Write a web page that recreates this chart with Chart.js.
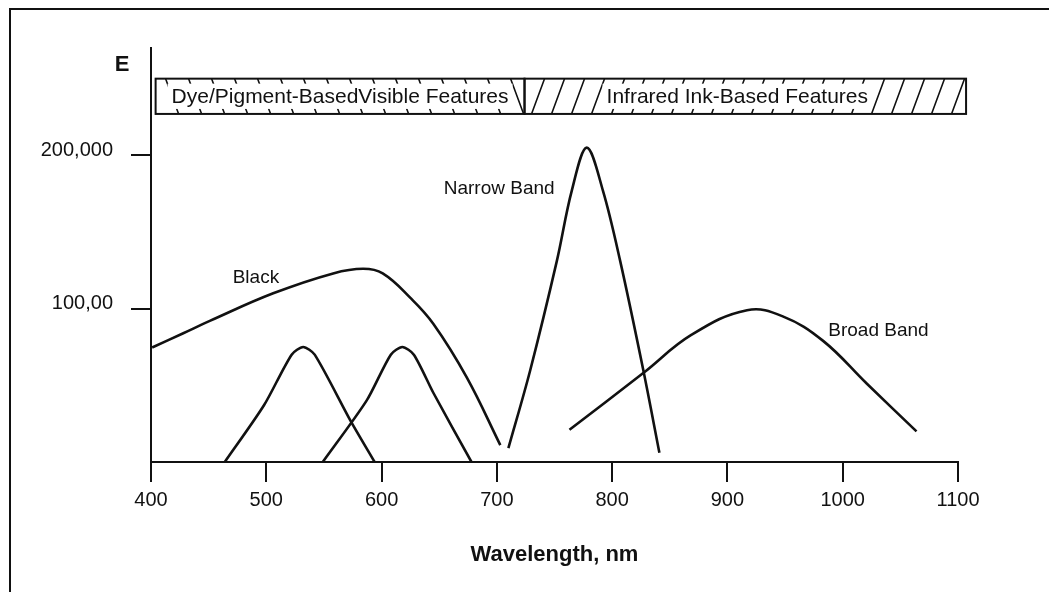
<!DOCTYPE html>
<html>
<head>
<meta charset="utf-8">
<script src="https://cdn.jsdelivr.net/npm/chart.js@4.4.1/dist/chart.umd.min.js"></script>
<style>
  html, body { margin: 0; padding: 0; background: #fff; }
  #wrap { width: 1049px; height: 592px; position: relative; }
</style>
</head>
<body>
<div id="wrap"><canvas id="chart"></canvas></div>
<script>
// wavelength (nm) / emission E for each curve
const blackWl = [401, 428, 451, 506, 558, 584, 601, 625, 645, 674, 703];
const blackE = [74700, 84000, 92000, 110000, 123000, 126000, 123000, 107000, 90000, 55000, 11000];

const dye1Wl = [464, 498, 522, 532, 542, 573, 594];
const dye1E = [0, 37000, 70000, 75000, 70000, 27000, 0];

const dye2Wl = [549, 587, 608, 618, 628, 645, 678];
const dye2E = [0, 40000, 70000, 75000, 70000, 45000, 0];

const narrowWl = [710, 729, 752, 765, 778, 792, 807, 827, 841];
const narrowE = [9000, 60000, 131000, 177000, 205000, 177000, 131000, 60000, 6000];

const broadWl = [763, 827, 869, 917, 948, 983, 1021, 1064];
const broadE = [21000, 58000, 83000, 99000, 95000, 79000, 51000, 20000];

const xTicks = [400, 500, 600, 700, 800, 900, 1000, 1100];
const yTickValues = [100000, 200000];
const yTickLabels = ['100,00', '200,000'];

// feature bands across the top
const bandLabels = ['Dye/Pigment-BasedVisible Features', 'Infrared Ink-Based Features'];
const bandFrom = [404, 724];
const bandTo = [724, 1107];
const bandTopE = 250000;
const bandBottomE = 227000;

// curve names, anchored at (nm, E)
const curveNames = ['Black', 'Narrow Band', 'Broad Band'];
const curveNameWl = [491, 702, 1031];
const curveNameE = [120000, 178500, 85700];

const FONT = '"Liberation Sans", Arial, Helvetica, sans-serif';
const INK = '#111';

const toPts = (xs, ys) => xs.map((x, i) => ({ x, y: ys[i] }));

const curve = (label, xs, ys, tension) => ({
  label,
  data: toPts(xs, ys),
  borderColor: INK,
  borderWidth: 2.6,
  pointRadius: 0,
  fill: false,
  tension,
});

const decorPlugin = {
  id: 'decor',
  beforeDraw(chart) {
    const ctx = chart.ctx;
    ctx.save();
    ctx.fillStyle = '#fff';
    ctx.fillRect(0, 0, chart.width, chart.height);
    // page frame
    ctx.strokeStyle = INK;
    ctx.lineWidth = 2;
    ctx.beginPath();
    ctx.moveTo(10, chart.height);
    ctx.lineTo(10, 9);
    ctx.lineTo(chart.width, 9);
    ctx.stroke();
    ctx.restore();
  },
  afterDatasetsDraw(chart) {
    const { ctx, scales: { x, y } } = chart;
    ctx.save();

    const top = y.getPixelForValue(bandTopE);
    const bot = y.getPixelForValue(bandBottomE);
    const h = bot - top;

    bandLabels.forEach((txt, i) => {
      const x0 = x.getPixelForValue(bandFrom[i]);
      const x1 = x.getPixelForValue(bandTo[i]);
      ctx.save();
      ctx.beginPath();
      ctx.rect(x0, top, x1 - x0, h);
      ctx.clip();
      ctx.strokeStyle = INK;
      ctx.lineWidth = 1.6;
      const slant = 13;
      const sp = i === 0 ? 23 : 20;
      ctx.beginPath();
      for (let px = x0 - slant; px < x1 + slant; px += sp) {
        if (i === 0) {
          ctx.moveTo(px, top);
          ctx.lineTo(px + slant, bot);
        } else {
          ctx.moveTo(px, bot);
          ctx.lineTo(px + slant, top);
        }
      }
      ctx.stroke();

      ctx.font = '21px ' + FONT;
      const w = ctx.measureText(txt).width;
      const cx = (x0 + x1) / 2 - (i === 0 ? 0 : 8);
      ctx.fillStyle = '#fff';
      ctx.fillRect(cx - w / 2 - 4, top + 5, w + 8, h - 10);
      ctx.fillStyle = INK;
      ctx.textAlign = 'center';
      ctx.textBaseline = 'middle';
      ctx.fillText(txt, cx, (top + bot) / 2 + 1);
      ctx.restore();

      ctx.strokeStyle = INK;
      ctx.lineWidth = 2;
      ctx.strokeRect(x0, top, x1 - x0, h);
    });

    // curve names
    ctx.fillStyle = INK;
    ctx.font = '19px ' + FONT;
    ctx.textAlign = 'center';
    ctx.textBaseline = 'middle';
    curveNames.forEach((n, i) => {
      ctx.fillText(n, x.getPixelForValue(curveNameWl[i]), y.getPixelForValue(curveNameE[i]));
    });

    // axis letter
    ctx.font = 'bold 22px ' + FONT;
    ctx.fillText('E', 122, 65);
    ctx.restore();
  }
};

new Chart(document.getElementById('chart'), {
  type: 'line',
  data: {
    datasets: [
      curve('Black', blackWl, blackE, 0.4),
      curve('Dye 1', dye1Wl, dye1E, 0.25),
      curve('Dye 2', dye2Wl, dye2E, 0.25),
      curve('Narrow Band', narrowWl, narrowE, 0.35),
      curve('Broad Band', broadWl, broadE, 0.4),
    ],
  },
  options: {
    responsive: true,
    maintainAspectRatio: false,
    animation: false,
    events: [],
    layout: { padding: { top: 48, right: 91, left: 0, bottom: 0 } },
    plugins: {
      legend: { display: false },
      tooltip: { enabled: false },
    },
    scales: {
      x: {
        type: 'linear',
        min: 400,
        max: 1100,
        afterBuildTicks: s => { s.ticks = xTicks.map(v => ({ value: v })); },
        afterFit: s => { s.height = 130; },
        border: { display: true, color: INK, width: 2 },
        grid: { drawOnChartArea: false, drawTicks: true, tickLength: 20, color: INK, lineWidth: 2 },
        ticks: {
          color: INK,
          font: { family: FONT, size: 20 },
          padding: 6,
          maxRotation: 0,
          callback: v => String(v),
        },
        title: {
          display: true,
          text: 'Wavelength, nm',
          color: INK,
          font: { family: FONT, size: 22, weight: 'bold' },
          padding: { top: 0, bottom: 24 },
        },
      },
      y: {
        type: 'linear',
        min: 0,
        max: 270000,
        afterBuildTicks: s => { s.ticks = yTickValues.map(v => ({ value: v })); },
        afterFit: s => { s.width = 151; },
        border: { display: true, color: INK, width: 2 },
        grid: { drawOnChartArea: false, drawTicks: true, tickLength: 20, color: INK, lineWidth: 2 },
        ticks: {
          color: INK,
          font: { family: FONT, size: 20 },
          padding: 18,
          labelOffset: -5,
          callback: v => yTickLabels[yTickValues.indexOf(v)],
        },
      },
    },
  },
  plugins: [decorPlugin],
});
</script>
</body>
</html>
